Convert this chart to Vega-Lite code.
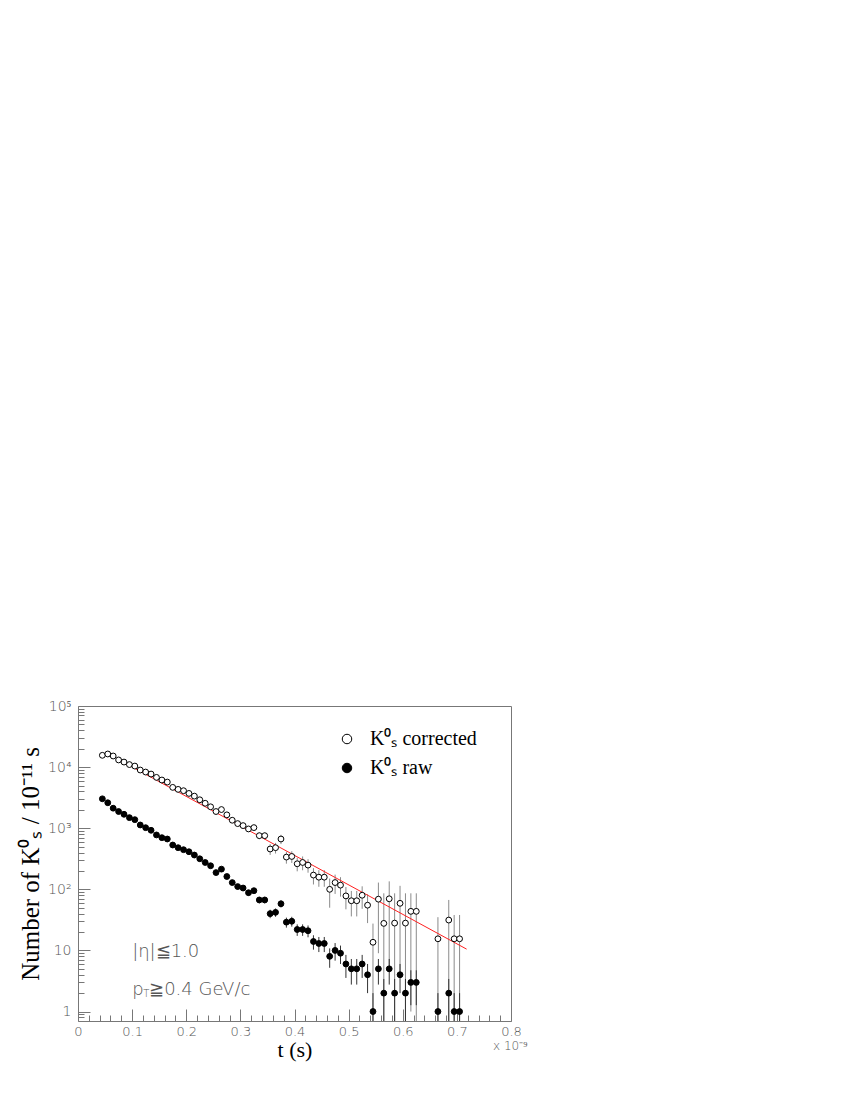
{
  "$schema": "https://vega.github.io/schema/vega-lite/v6.json",
  "autosize": {"type": "none"},
  "width": 433,
  "height": 315,
  "padding": {"left": 78, "top": 706, "right": 339, "bottom": 79},
  "background": "white",
  "config": {
    "view": {"stroke": "#777", "strokeWidth": 1},
    "axis": {"grid": false, "domain": false, "tickColor": "#777", "tickWidth": 1, "labelColor": "#555", "labelFont": "DejaVu Sans", "labelFontWeight": 200, "labelFontSize": 13, "labelFlush": false, "labelOverlap": false, "titleFont": "Liberation Serif", "titleFontWeight": "normal", "titleColor": "black", "titleFontSize": 22}
  },
  "datasets": {
    "pts": [
      {"t":0.045,"v":15600,"lo":15290,"hi":15910,"s":"corrected"},
      {"t":0.055,"v":16400,"lo":16070,"hi":16730,"s":"corrected"},
      {"t":0.065,"v":15200,"lo":14900,"hi":15500,"s":"corrected"},
      {"t":0.075,"v":13100,"lo":12840,"hi":13360,"s":"corrected"},
      {"t":0.085,"v":12100,"lo":11860,"hi":12340,"s":"corrected"},
      {"t":0.095,"v":11000,"lo":10780,"hi":11220,"s":"corrected"},
      {"t":0.105,"v":10400,"lo":10190,"hi":10610,"s":"corrected"},
      {"t":0.115,"v":8960,"lo":8780,"hi":9140,"s":"corrected"},
      {"t":0.125,"v":8300,"lo":8130,"hi":8470,"s":"corrected"},
      {"t":0.135,"v":7700,"lo":7550,"hi":7850,"s":"corrected"},
      {"t":0.145,"v":6790,"lo":6650,"hi":6930,"s":"corrected"},
      {"t":0.155,"v":6150,"lo":6030,"hi":6270,"s":"corrected"},
      {"t":0.165,"v":5690,"lo":5580,"hi":5800,"s":"corrected"},
      {"t":0.175,"v":4660,"lo":4570,"hi":4750,"s":"corrected"},
      {"t":0.185,"v":4320,"lo":4230,"hi":4410,"s":"corrected"},
      {"t":0.195,"v":4110,"lo":4030,"hi":4190,"s":"corrected"},
      {"t":0.205,"v":3710,"lo":3640,"hi":3780,"s":"corrected"},
      {"t":0.215,"v":3350,"lo":3280,"hi":3420,"s":"corrected"},
      {"t":0.225,"v":2920,"lo":2800,"hi":3040,"s":"corrected"},
      {"t":0.235,"v":2560,"lo":2460,"hi":2660,"s":"corrected"},
      {"t":0.245,"v":2240,"lo":2150,"hi":2330,"s":"corrected"},
      {"t":0.255,"v":1875,"lo":1800,"hi":1950,"s":"corrected"},
      {"t":0.265,"v":2020,"lo":1900,"hi":2140,"s":"corrected"},
      {"t":0.275,"v":1655,"lo":1520,"hi":1790,"s":"corrected"},
      {"t":0.285,"v":1350,"lo":1240,"hi":1460,"s":"corrected"},
      {"t":0.295,"v":1190,"lo":1090,"hi":1290,"s":"corrected"},
      {"t":0.305,"v":1103,"lo":990,"hi":1210,"s":"corrected"},
      {"t":0.315,"v":973,"lo":880,"hi":1070,"s":"corrected"},
      {"t":0.325,"v":1023,"lo":920,"hi":1130,"s":"corrected"},
      {"t":0.335,"v":755,"lo":660,"hi":850,"s":"corrected"},
      {"t":0.345,"v":755,"lo":660,"hi":850,"s":"corrected"},
      {"t":0.355,"v":457,"lo":365,"hi":550,"s":"corrected"},
      {"t":0.365,"v":480,"lo":385,"hi":575,"s":"corrected"},
      {"t":0.375,"v":666,"lo":550,"hi":780,"s":"corrected"},
      {"t":0.385,"v":337,"lo":263,"hi":411,"s":"corrected"},
      {"t":0.395,"v":345,"lo":270,"hi":420,"s":"corrected"},
      {"t":0.405,"v":262,"lo":197,"hi":327,"s":"corrected"},
      {"t":0.415,"v":275,"lo":205,"hi":345,"s":"corrected"},
      {"t":0.425,"v":249,"lo":187,"hi":311,"s":"corrected"},
      {"t":0.435,"v":171,"lo":120,"hi":222,"s":"corrected"},
      {"t":0.445,"v":158,"lo":110,"hi":206,"s":"corrected"},
      {"t":0.455,"v":158,"lo":110,"hi":206,"s":"corrected"},
      {"t":0.465,"v":100,"lo":50,"hi":150,"s":"corrected"},
      {"t":0.475,"v":129,"lo":84,"hi":174,"s":"corrected"},
      {"t":0.485,"v":117,"lo":76,"hi":158,"s":"corrected"},
      {"t":0.495,"v":78,"lo":47,"hi":109,"s":"corrected"},
      {"t":0.505,"v":65,"lo":36,"hi":94,"s":"corrected"},
      {"t":0.515,"v":65,"lo":36,"hi":94,"s":"corrected"},
      {"t":0.525,"v":80,"lo":48,"hi":112,"s":"corrected"},
      {"t":0.535,"v":55,"lo":28,"hi":83,"s":"corrected"},
      {"t":0.545,"v":13.6,"lo":0.7,"hi":27.5,"s":"corrected"},
      {"t":0.555,"v":69,"lo":9,"hi":129,"s":"corrected"},
      {"t":0.565,"v":27.7,"lo":0.7,"hi":86,"s":"corrected"},
      {"t":0.575,"v":70,"lo":5,"hi":135,"s":"corrected"},
      {"t":0.585,"v":28,"lo":0.7,"hi":86,"s":"corrected"},
      {"t":0.595,"v":59,"lo":4,"hi":114,"s":"corrected"},
      {"t":0.605,"v":28,"lo":0.7,"hi":86,"s":"corrected"},
      {"t":0.615,"v":43.6,"lo":1,"hi":86,"s":"corrected"},
      {"t":0.625,"v":43.6,"lo":0.7,"hi":86,"s":"corrected"},
      {"t":0.665,"v":15.5,"lo":0.7,"hi":35,"s":"corrected"},
      {"t":0.685,"v":31.4,"lo":0.7,"hi":67,"s":"corrected"},
      {"t":0.695,"v":15.5,"lo":0.7,"hi":38,"s":"corrected"},
      {"t":0.705,"v":15.5,"lo":0.7,"hi":38,"s":"corrected"},
      {"t":0.045,"v":3030,"lo":2975,"hi":3085,"s":"raw"},
      {"t":0.055,"v":2610,"lo":2559,"hi":2661,"s":"raw"},
      {"t":0.065,"v":2125,"lo":2079,"hi":2171,"s":"raw"},
      {"t":0.075,"v":1875,"lo":1832,"hi":1918,"s":"raw"},
      {"t":0.085,"v":1690,"lo":1649,"hi":1731,"s":"raw"},
      {"t":0.095,"v":1490,"lo":1451,"hi":1529,"s":"raw"},
      {"t":0.105,"v":1380,"lo":1343,"hi":1417,"s":"raw"},
      {"t":0.115,"v":1130,"lo":1096,"hi":1164,"s":"raw"},
      {"t":0.125,"v":1020,"lo":988,"hi":1052,"s":"raw"},
      {"t":0.135,"v":925,"lo":895,"hi":955,"s":"raw"},
      {"t":0.145,"v":776,"lo":748,"hi":804,"s":"raw"},
      {"t":0.155,"v":700,"lo":674,"hi":726,"s":"raw"},
      {"t":0.165,"v":666,"lo":640,"hi":692,"s":"raw"},
      {"t":0.175,"v":531,"lo":508,"hi":554,"s":"raw"},
      {"t":0.185,"v":480,"lo":458,"hi":502,"s":"raw"},
      {"t":0.195,"v":445,"lo":424,"hi":466,"s":"raw"},
      {"t":0.205,"v":412,"lo":392,"hi":432,"s":"raw"},
      {"t":0.215,"v":364,"lo":345,"hi":383,"s":"raw"},
      {"t":0.225,"v":316,"lo":298,"hi":334,"s":"raw"},
      {"t":0.235,"v":275,"lo":258,"hi":292,"s":"raw"},
      {"t":0.245,"v":243,"lo":227,"hi":259,"s":"raw"},
      {"t":0.255,"v":188,"lo":174,"hi":202,"s":"raw"},
      {"t":0.265,"v":214,"lo":199,"hi":229,"s":"raw"},
      {"t":0.275,"v":162,"lo":149,"hi":175,"s":"raw"},
      {"t":0.285,"v":129,"lo":118,"hi":140,"s":"raw"},
      {"t":0.295,"v":111,"lo":100,"hi":122,"s":"raw"},
      {"t":0.305,"v":105,"lo":95,"hi":115,"s":"raw"},
      {"t":0.315,"v":88,"lo":79,"hi":97,"s":"raw"},
      {"t":0.325,"v":95,"lo":85,"hi":105,"s":"raw"},
      {"t":0.335,"v":67,"lo":59,"hi":75,"s":"raw"},
      {"t":0.345,"v":67,"lo":59,"hi":75,"s":"raw"},
      {"t":0.355,"v":40,"lo":33.7,"hi":46.3,"s":"raw"},
      {"t":0.365,"v":42,"lo":35.5,"hi":48.5,"s":"raw"},
      {"t":0.375,"v":58,"lo":50.4,"hi":65.6,"s":"raw"},
      {"t":0.385,"v":29,"lo":23.6,"hi":34.4,"s":"raw"},
      {"t":0.395,"v":30,"lo":24.5,"hi":35.5,"s":"raw"},
      {"t":0.405,"v":22,"lo":17.3,"hi":26.7,"s":"raw"},
      {"t":0.415,"v":22,"lo":17.3,"hi":26.7,"s":"raw"},
      {"t":0.425,"v":21,"lo":16.4,"hi":25.6,"s":"raw"},
      {"t":0.435,"v":14,"lo":10.3,"hi":17.7,"s":"raw"},
      {"t":0.445,"v":13,"lo":9.4,"hi":16.6,"s":"raw"},
      {"t":0.455,"v":13,"lo":9.4,"hi":16.6,"s":"raw"},
      {"t":0.465,"v":8,"lo":5.2,"hi":10.8,"s":"raw"},
      {"t":0.475,"v":10,"lo":6.8,"hi":13.2,"s":"raw"},
      {"t":0.485,"v":9,"lo":6,"hi":12,"s":"raw"},
      {"t":0.495,"v":6,"lo":3.55,"hi":8.45,"s":"raw"},
      {"t":0.505,"v":5,"lo":2.76,"hi":7.24,"s":"raw"},
      {"t":0.515,"v":5,"lo":2.76,"hi":7.24,"s":"raw"},
      {"t":0.525,"v":6,"lo":3.55,"hi":8.45,"s":"raw"},
      {"t":0.535,"v":4,"lo":2,"hi":6,"s":"raw"},
      {"t":0.545,"v":1,"lo":0.7,"hi":2,"s":"raw"},
      {"t":0.555,"v":5,"lo":2.76,"hi":7.24,"s":"raw"},
      {"t":0.565,"v":2,"lo":0.7,"hi":3.41,"s":"raw"},
      {"t":0.575,"v":5,"lo":2.76,"hi":7.24,"s":"raw"},
      {"t":0.585,"v":2,"lo":0.7,"hi":3.41,"s":"raw"},
      {"t":0.595,"v":4,"lo":2,"hi":6,"s":"raw"},
      {"t":0.605,"v":2,"lo":0.7,"hi":3.41,"s":"raw"},
      {"t":0.615,"v":3,"lo":1.27,"hi":4.73,"s":"raw"},
      {"t":0.625,"v":3,"lo":1.27,"hi":4.73,"s":"raw"},
      {"t":0.665,"v":1,"lo":0.7,"hi":2,"s":"raw"},
      {"t":0.685,"v":2,"lo":0.7,"hi":3.41,"s":"raw"},
      {"t":0.695,"v":1,"lo":0.7,"hi":2,"s":"raw"},
      {"t":0.705,"v":1,"lo":0.7,"hi":2,"s":"raw"}
    ],
    "fit": [
      {"t": 0.073, "v": 13600},
      {"t": 0.718, "v": 10.5}
    ]
  },
  "data": {"name": "pts"},
  "resolve": {"axis": {"x": "independent", "y": "independent"}},
  "layer": [
    {
      "transform": [{"filter": "datum.s == 'corrected'"}],
      "mark": {"type": "rule", "stroke": "#8a8a8a", "strokeWidth": 1, "clip": true},
      "encoding": {
        "x": {"field": "t", "type": "quantitative", "scale": {"domain": [0, 0.8], "nice": false, "zero": false},
          "axis": {"orient": "bottom", "values": [0.02,0.04,0.06,0.08,0.12,0.14,0.16,0.18,0.22,0.24,0.26,0.28,0.32,0.34,0.36,0.38,0.42,0.44,0.46,0.48,0.52,0.54,0.56,0.58,0.62,0.64,0.66,0.68,0.72,0.74,0.76,0.78], "labels": false, "tickSize": -6, "title": null}},
        "y": {"field": "lo", "type": "quantitative", "scale": {"type": "log", "domain": [0.7, 100000], "nice": false},
          "axis": {"orient": "left", "values": [0.8,0.9,2,3,4,5,6,7,8,9,20,30,40,50,60,70,80,90,200,300,400,500,600,700,800,900,2000,3000,4000,5000,6000,7000,8000,9000,20000,30000,40000,50000,60000,70000,80000,90000], "labels": false, "tickSize": -6, "title": null}},
        "y2": {"field": "hi"}
      }
    },
    {
      "transform": [{"filter": "datum.s == 'raw'"}],
      "mark": {"type": "rule", "stroke": "#333", "strokeWidth": 1, "clip": true},
      "encoding": {
        "x": {"field": "t", "type": "quantitative", "axis": null},
        "y": {"field": "lo", "type": "quantitative", "axis": null},
        "y2": {"field": "hi"}
      }
    },
    {
      "data": {"name": "fit"},
      "mark": {"type": "line", "stroke": "#ff2020", "strokeWidth": 1},
      "encoding": {
        "x": {"field": "t", "type": "quantitative", "axis": null},
        "y": {"field": "v", "type": "quantitative", "axis": null}
      }
    },
    {
      "mark": {"type": "point", "shape": "circle", "filled": true, "stroke": "black", "strokeWidth": 1, "size": 34, "opacity": 1},
      "encoding": {
        "x": {"field": "t", "type": "quantitative",
          "axis": {"orient": "bottom", "values": [0,0.1,0.2,0.3,0.4,0.5,0.6,0.7,0.8], "format": "~g", "tickSize": -12, "labelPadding": 16, "title": "t (s)", "titlePadding": 1}},
        "y": {"field": "v", "type": "quantitative",
          "axis": {"orient": "left", "values": [1,10,100,1000,10000,100000], "tickSize": -12, "labelPadding": 19, "labelFontSize": 14, "labelExpr": "datum.value == 1 ? '1' : datum.value == 10 ? '10' : datum.value == 100 ? '10²' : datum.value == 1000 ? '10³' : datum.value == 10000 ? '10⁴' : '10⁵'", "title": "Number of K⁰ₛ / 10⁻¹¹ s", "titleFontSize": 25, "titlePadding": 4}},
        "fill": {"field": "s", "type": "nominal", "scale": {"domain": ["corrected", "raw"], "range": ["white", "black"]},
          "legend": {"orient": "none", "legendX": 259, "legendY": 23, "title": null, "padding": 0, "symbolType": "circle", "symbolSize": 90, "symbolStrokeColor": "black", "symbolStrokeWidth": 1, "labelFont": "Liberation Serif", "labelFontSize": 20, "labelColor": "black", "labelOffset": 13, "rowPadding": 9,
            "labelExpr": "datum.value == 'corrected' ? 'K⁰ₛ corrected' : 'K⁰ₛ raw'"}}
      }
    },
    {
      "data": {"values": [{"label": "|η|≦1.0"}]},
      "mark": {"type": "text", "align": "left", "baseline": "middle", "font": "DejaVu Sans", "fontWeight": 200, "fontSize": 18, "color": "#555"},
      "encoding": {
        "x": {"datum": 0.1, "type": "quantitative", "axis": null},
        "y": {"datum": 9.5, "type": "quantitative", "axis": null},
        "text": {"field": "label"}
      }
    },
    {
      "data": {"values": [{"label": "p"}]},
      "mark": {"type": "text", "align": "left", "baseline": "middle", "font": "DejaVu Sans", "fontWeight": 200, "fontSize": 18, "color": "#555"},
      "encoding": {
        "x": {"datum": 0.1, "type": "quantitative", "axis": null},
        "y": {"datum": 2.25, "type": "quantitative", "axis": null},
        "text": {"field": "label"}
      }
    },
    {
      "data": {"values": [{"label": "T"}]},
      "mark": {"type": "text", "align": "left", "baseline": "middle", "font": "DejaVu Sans", "fontWeight": 200, "fontSize": 10, "color": "#555", "dx": 11, "dy": 4},
      "encoding": {
        "x": {"datum": 0.1, "type": "quantitative", "axis": null},
        "y": {"datum": 2.25, "type": "quantitative", "axis": null},
        "text": {"field": "label"}
      }
    },
    {
      "data": {"values": [{"label": "≧0.4 GeV/c"}]},
      "mark": {"type": "text", "align": "left", "baseline": "middle", "font": "DejaVu Sans", "fontWeight": 200, "fontSize": 18, "color": "#555", "dx": 17},
      "encoding": {
        "x": {"datum": 0.1, "type": "quantitative", "axis": null},
        "y": {"datum": 2.25, "type": "quantitative", "axis": null},
        "text": {"field": "label"}
      }
    },
    {
      "data": {"values": [{"label": "x 10⁻⁹"}]},
      "mark": {"type": "text", "align": "left", "baseline": "middle", "font": "DejaVu Sans", "fontWeight": 200, "fontSize": 12, "color": "#555", "dx": -18, "dy": 25},
      "encoding": {
        "x": {"datum": 0.8, "type": "quantitative", "axis": null},
        "y": {"datum": 0.7, "type": "quantitative", "axis": null},
        "text": {"field": "label"}
      }
    }
  ]
}
